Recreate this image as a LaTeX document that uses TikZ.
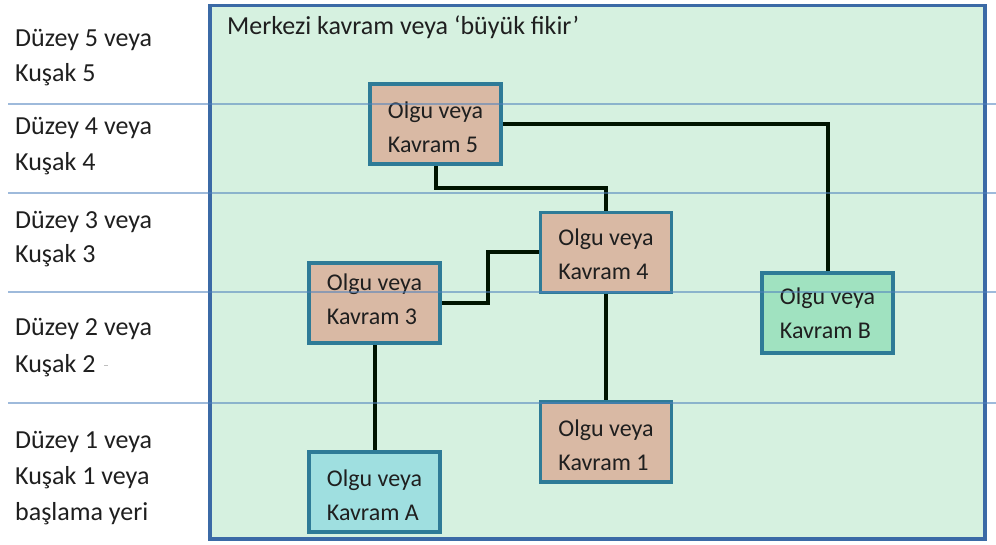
\documentclass[tikz,border=0pt]{standalone}
\usepackage{fontspec}
\setmainfont{Carlito}
\definecolor{areafill}{HTML}{D6F1E0}
\definecolor{areaedge}{HTML}{3B6AA6}
\definecolor{boxedge}{HTML}{2E7B97}
\definecolor{tanfill}{HTML}{D9B9A4}
\definecolor{afill}{HTML}{9FDFE0}
\definecolor{bfill}{HTML}{A0E2C0}
\definecolor{levelline}{HTML}{4F81BD}
\tikzset{
  lvl/.style={anchor=base west, inner sep=0pt, font=\fontsize{26}{33}\selectfont, text=black!88},
  concept/.style={draw=boxedge, line width=3.2pt, minimum width=131pt, minimum height=80pt, inner sep=0pt},
  conceptlabel/.style={inner sep=0pt, align=left, font=\fontsize{24}{34}\selectfont, text=black!88},
  link/.style={line width=4pt, black!92!green},
  divider/.style={levelline, line width=2pt, opacity=0.55}
}
\begin{document}
\begin{tikzpicture}[x=1pt, y=-1pt]
  \useasboundingbox (0,0) rectangle (996,545);
  % central area
  \draw[fill=areafill, draw=areaedge, line width=3.2pt] (210,5.5) rectangle (985,539);
  \node[anchor=base west, inner sep=0pt, font=\fontsize{26}{33}\selectfont, text=black!88] (title) at (227,35) {Merkezi kavram veya ‘büyük fikir’};

  % level labels
  \node[lvl] (l5a) at (15,47) {Düzey 5 veya};
  \node[lvl] (l5b) at (15,82) {Kuşak 5};
  \node[lvl] (l4a) at (15,135) {Düzey 4 veya};
  \node[lvl] (l4b) at (15,171) {Kuşak 4};
  \node[lvl] (l3a) at (15,229) {Düzey 3 veya};
  \node[lvl] (l3b) at (15,263) {Kuşak 3};
  \node[lvl] (l2a) at (15,336) {Düzey 2 veya};
  \node[lvl] (l2b) at (15,372) {Kuşak 2};
  \node[lvl] (l1a) at (15,448) {Düzey 1 veya};
  \node[lvl] (l1b) at (15,484) {Kuşak 1 veya};
  \node[lvl] (l1c) at (15,520) {başlama yeri};
  \draw[black!25, line width=0.8pt] (104,365) -- (108,365);

  % concept box frames
  \node[concept] (k5) at (435.5,124) {};
  \node[concept] (k4) at (606,252.5) {};
  \node[concept] (k3) at (374.5,303) {};
  \node[concept] (kB) at (827.5,313) {};
  \node[concept] (k1) at (606,442) {};
  \node[concept] (kA) at (374.5,492) {};

  % connectors
  \draw[link] (k5.east) -| (kB.north);
  \draw[link] (k5.south) -- ++(0,22) -| (k4.north);
  \draw[link] (k4.west) -- ++(-51,0) |- (k3.east);
  \draw[link] (k3.south) -- (kA.north);
  \draw[link] (k4.south) -- (k1.north);

  % filled boxes above the connector ends
  \node[concept, fill=tanfill] at (k5) {};
  \node[concept, fill=tanfill] at (k4) {};
  \node[concept, fill=tanfill] at (k3) {};
  \node[concept, fill=bfill] at (kB) {};
  \node[concept, fill=tanfill] at (k1) {};
  \node[concept, fill=afill] at (kA) {};

  % box texts
  \node[conceptlabel] (t5) at ([yshift=-3pt]k5.center) {Olgu veya\\Kavram 5};
  \node[conceptlabel] (t4) at ([yshift=-2pt]k4.center) {Olgu veya\\Kavram 4};
  \node[conceptlabel] (t3) at ([yshift=4pt]k3.center) {Olgu veya\\Kavram 3};
  \node[conceptlabel] (tB) at ([yshift=0pt]kB.center) {Olgu veya\\Kavram B};
  \node[conceptlabel] (t1) at ([yshift=-3pt]k1.center) {Olgu veya\\Kavram 1};
  \node[conceptlabel] (tA) at ([yshift=-3pt]kA.center) {Olgu veya\\Kavram A};

  % level dividers
  \foreach \yy in {104,193,292.5,402.5}
    \draw[divider] (8,\yy) -- (996,\yy);
\end{tikzpicture}
\end{document}
